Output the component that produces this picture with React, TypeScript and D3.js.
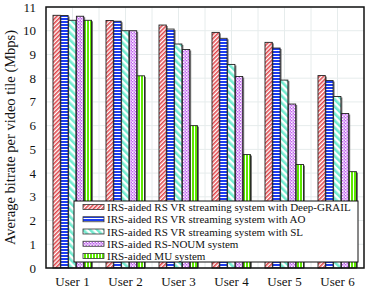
import React from "react";
import * as d3 from "d3";

const users = ["User 1", "User 2", "User 3", "User 4", "User 5", "User 6"];
const seriesNames = [
  "IRS-aided RS VR streaming system with Deep-GRAIL",
  "IRS-aided RS VR streaming system with AO",
  "IRS-aided RS VR streaming system with SL",
  "IRS-aided RS-NOUM system",
  "IRS-aided MU system",
];
const deepGrail = [10.65, 10.43, 10.24, 9.93, 9.51, 8.11];
const ao = [10.64, 10.4, 10.07, 9.68, 9.27, 7.9];
const sl = [10.44, 10.0, 9.44, 8.58, 7.92, 7.23];
const noum = [10.61, 10.0, 9.21, 8.07, 6.91, 6.51];
const mu = [10.44, 8.1, 6.0, 4.78, 4.36, 4.06];
const seriesValues = [deepGrail, ao, sl, noum, mu];
const yTicks = [0, 1, 2, 3, 4, 5, 6, 7, 8, 9, 10, 11];

const W = 367;
const H = 290;
const L = 46, R = 364, T = 7, B = 268;
const FONT = "'Liberation Serif', 'Times New Roman', serif";

export default function App() {
  const x0 = d3.scaleBand<string>().domain(users).range([L, R]).paddingInner(0).paddingOuter(0);
  const x1 = d3.scaleBand<number>().domain(d3.range(5)).range([0, 39]).padding(0);
  const y = d3.scaleLinear().domain([0, 11]).range([B, T]);
  const groupOffset = (x0.bandwidth() - 39) / 2;
  const patIds = ["p0", "p1", "p2", "p3", "p4"];
  const legendRowY = d3.scaleLinear().domain([0, 4]).range([207, 256]);

  return (
    <svg width={W} height={H} style={{ position: "absolute", left: 0, top: 0 }}>
      <defs>
        <pattern id="p0" width="3" height="3" patternUnits="userSpaceOnUse" patternTransform="rotate(45)">
          <rect width="3" height="3" fill="#ffffff" />
          <rect width="1.6" height="3" fill="#e0474c" />
        </pattern>
        <pattern id="p1" width="3" height="3" patternUnits="userSpaceOnUse">
          <rect width="3" height="3" fill="#ffffff" />
          <rect width="3" height="2" fill="#1c3cf0" />
        </pattern>
        <pattern id="p2" width="5" height="5" patternUnits="userSpaceOnUse" patternTransform="rotate(-45)">
          <rect width="5" height="5" fill="#ffffff" />
          <rect width="2.6" height="5" fill="#72ecd0" />
        </pattern>
        <pattern id="p3" width="3" height="3" patternUnits="userSpaceOnUse">
          <rect width="3" height="3" fill="#ffffff" />
          <rect x="0" y="0" width="1.5" height="1.5" fill="#c064ee" />
          <rect x="1.5" y="1.5" width="1.5" height="1.5" fill="#c064ee" />
          <rect x="1.5" y="0" width="1.5" height="1.5" fill="#e2b4f8" />
        </pattern>
        <pattern id="p4" width="3" height="3" patternUnits="userSpaceOnUse">
          <rect width="3" height="3" fill="#ffffff" />
          <rect width="2" height="3" fill="#5ee800" />
        </pattern>
      </defs>
      <rect x={0} y={0} width={W} height={H} fill="#ffffff" />
      {/* grid */}
      <g stroke="#e6ecec" strokeWidth={1}>
        {yTicks.map((t) => (
          <line key={"h" + t} x1={L} x2={R} y1={y(t)} y2={y(t)} />
        ))}
        {users.map((u) => (
          <line key={"vc" + u} x1={(x0(u) as number) + x0.bandwidth() / 2} x2={(x0(u) as number) + x0.bandwidth() / 2} y1={T} y2={B} />
        ))}
        {users.slice(1).map((u) => (
          <line key={"vb" + u} x1={x0(u) as number} x2={x0(u) as number} y1={T} y2={B} />
        ))}
      </g>
      {/* bars */}
      {seriesValues.map((vals, si) => (
        <g key={"s" + si}>
          {vals.map((v, ui) => {
            const bx = (x0(users[ui]) as number) + groupOffset + (x1(si) as number);
            const by = y(v);
            const bw = x1.bandwidth();
            return (
              <g key={ui}>
                <rect x={bx + 1} y={by + 1} width={bw} height={B - by - 1} fill="#777" />
                <rect x={bx} y={by} width={bw - 0.5} height={B - by} fill={`url(#${patIds[si]})`} stroke="#222" strokeWidth={0.9} />
              </g>
            );
          })}
        </g>
      ))}
      {/* legend */}
      <rect x={74} y={201} width={284} height={61} fill="#ffffff" stroke="#111" strokeWidth={1} />
      {seriesNames.map((n, i) => (
        <g key={"l" + i}>
          <rect x={83} y={legendRowY(i) - 2.5} width={21} height={5} fill={`url(#${patIds[i]})`} stroke="#333" strokeWidth={0.8} />
          <text x={107} y={legendRowY(i) + 4} fontFamily={FONT} fontSize={11} fill="#111">{n}</text>
        </g>
      ))}
      {/* frame */}
      <rect x={L} y={T} width={R - L} height={B - T} fill="none" stroke="#111" strokeWidth={1.5} />
      {/* y tick labels */}
      {yTicks.map((t) => (
        <text key={"yt" + t} x={36} y={y(t) + 4.5} textAnchor="end" fontFamily={FONT} fontSize={13} fill="#111">{t}</text>
      ))}
      {/* x labels */}
      {users.map((u) => (
        <text key={"xl" + u} x={(x0(u) as number) + x0.bandwidth() / 2} y={286} textAnchor="middle" fontFamily={FONT} fontSize={13} fill="#111">{u}</text>
      ))}
      <text transform={`translate(15, ${(T + B) / 2}) rotate(-90)`} textAnchor="middle" fontFamily={FONT} fontSize={14.5} fill="#111">
        Average bitrate per video tile (Mbps)
      </text>
    </svg>
  );
}
